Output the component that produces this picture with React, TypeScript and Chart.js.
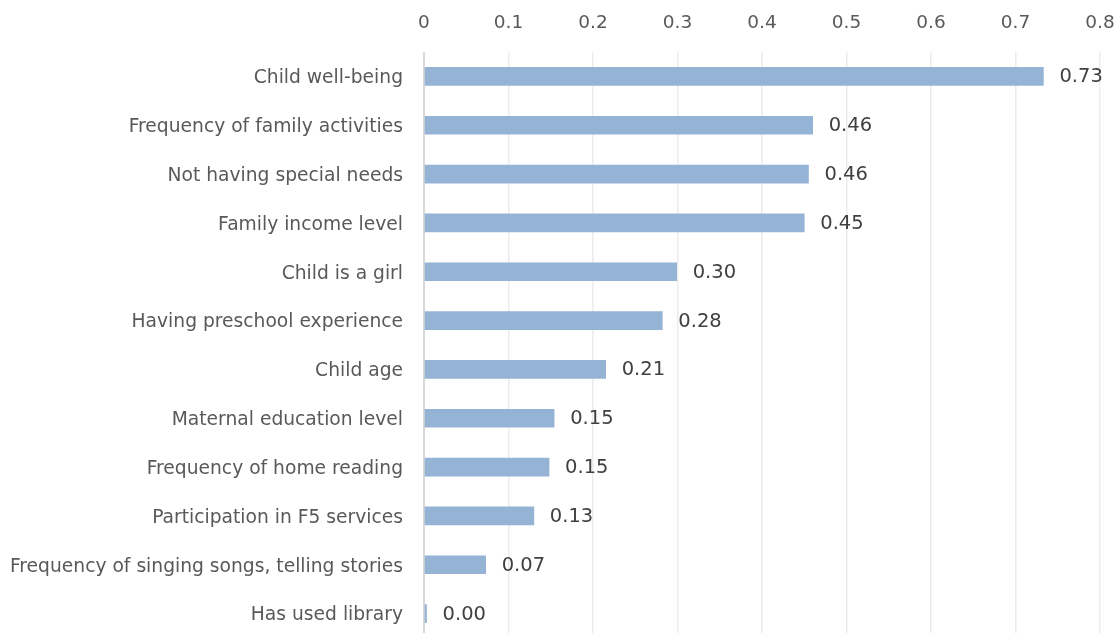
import React, { useEffect, useRef } from "react";
import { Chart, registerables } from "chart.js";

Chart.register(...registerables);

const categories = [
  "Child well-being",
  "Frequency of family activities",
  "Not having special needs",
  "Family income level",
  "Child is a girl",
  "Having preschool experience",
  "Child age",
  "Maternal education level",
  "Frequency of home reading",
  "Participation in F5 services",
  "Frequency of singing songs, telling stories",
  "Has used library",
];

const values = [0.733, 0.46, 0.455, 0.45, 0.299, 0.282, 0.215, 0.154, 0.148, 0.13, 0.073, 0.003];
const valueLabels = ["0.73", "0.46", "0.46", "0.45", "0.30", "0.28", "0.21", "0.15", "0.15", "0.13", "0.07", "0.00"];

const xTicks = [0, 0.1, 0.2, 0.3, 0.4, 0.5, 0.6, 0.7, 0.8];

const FONT = "'DejaVu Sans', sans-serif";

const valueLabelPlugin = {
  id: "valueLabels",
  afterDatasetsDraw(chart: any) {
    const ctx = chart.ctx;
    const meta = chart.getDatasetMeta(0);
    ctx.save();
    ctx.font = `19.5px ${FONT}`;
    ctx.fillStyle = "#404040";
    ctx.textAlign = "left";
    ctx.textBaseline = "middle";
    meta.data.forEach((bar: any, i: number) => {
      ctx.fillText(valueLabels[i], bar.x + 16, bar.y + 1);
    });
    ctx.restore();
  },
};

const zeroPad = (scale: any) => {
  scale.paddingTop = 0;
  scale.paddingBottom = 0;
  scale.paddingLeft = 0;
  scale.paddingRight = 0;
};

export default function App() {
  const ref = useRef<HTMLCanvasElement>(null);
  useEffect(() => {
    if (!ref.current) return;
    const chart = new Chart(ref.current, {
      type: "bar",
      data: {
        labels: categories,
        datasets: [
          {
            data: values,
            backgroundColor: "#95B3D5",
            borderWidth: 0,
            barThickness: 18,
          },
        ],
      },
      plugins: [valueLabelPlugin],
      options: {
        indexAxis: "y",
        responsive: false,
        animation: false,
        devicePixelRatio: 1,
        layout: { padding: { left: 0, right: 19, top: 0, bottom: 0 } },
        plugins: { legend: { display: false }, tooltip: { enabled: false } },
        scales: {
          x: {
            position: "top",
            min: 0,
            max: 0.8,
            afterBuildTicks(scale: any) {
              scale.ticks = xTicks.map((v) => ({ value: v }));
            },
            afterFit(scale: any) {
              scale.height = 52;
              zeroPad(scale);
            },
            ticks: {
              padding: 18,
              color: "#595959",
              font: { family: FONT, size: 18.5 },
              callback: (v: any) => String(Math.round(Number(v) * 10) / 10),
            },
            grid: {
              drawTicks: false,
              color: (c: any) => (c.index === 0 ? "#d9d9d9" : "#ececec"),
              lineWidth: (c: any) => (c.index === 0 ? 2 : 1.5),
            },
            border: { display: false },
          },
          y: {
            afterFit(scale: any) {
              scale.width = 424;
              zeroPad(scale);
            },
            ticks: {
              padding: 21,
              labelOffset: 2,
              color: "#595959",
              font: { family: FONT, size: 18.7 },
            },
            grid: { display: false, drawTicks: false },
            border: { display: false },
          },
        },
      },
    });
    return () => chart.destroy();
  }, []);
  return (
    <div
      style={{
        position: "fixed",
        left: 0,
        top: 0,
        width: 1119,
        height: 633,
        overflow: "hidden",
        background: "#fff",
      }}
    >
      <canvas ref={ref} width={1119} height={638} style={{ display: "block" }} />
    </div>
  );
}
